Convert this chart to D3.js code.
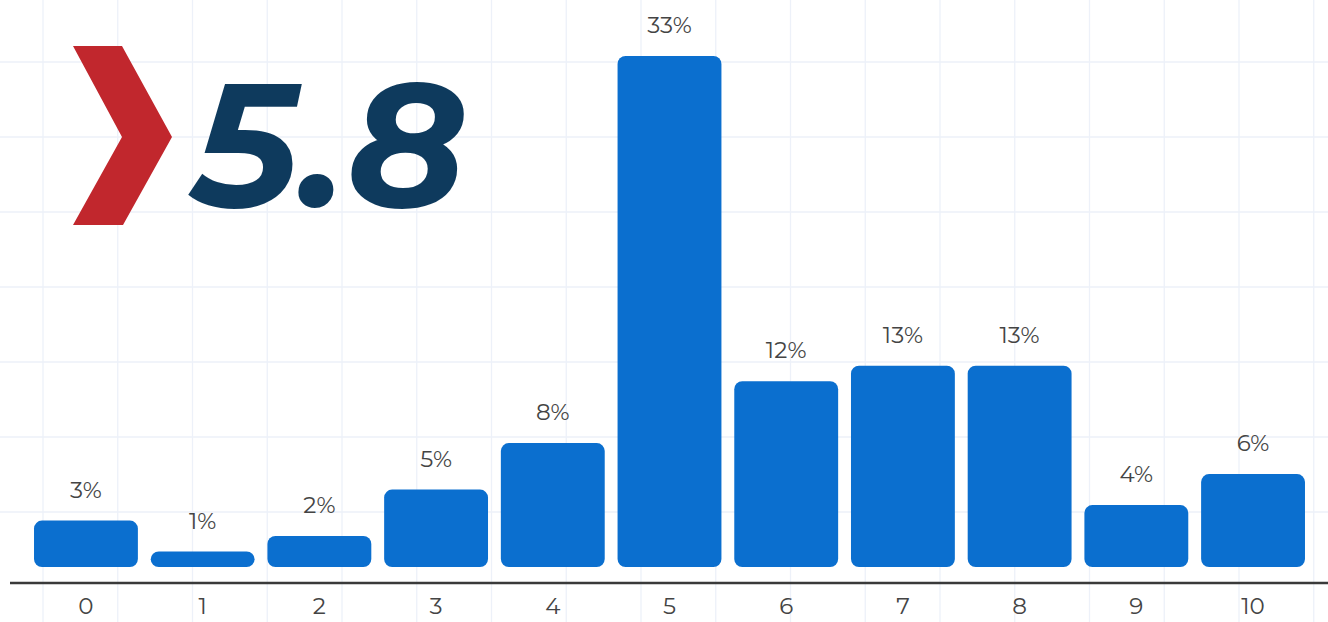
<!DOCTYPE html>
<html>
<head>
<meta charset="utf-8">
<script src="https://d3js.org/d3.v7.min.js"></script>
<style>
  body { margin: 0; background: #fff; overflow: hidden; }
  * { font-family: Montserrat, "Noto Sans", "Open Sans", sans-serif; }
</style>
</head>
<body>
<script>
// scores 0-10 and share of answers
const scores = ["0", "1", "2", "3", "4", "5", "6", "7", "8", "9", "10"];
const shares = [3, 1, 2, 5, 8, 33, 12, 13, 13, 4, 6];
const average = "5.8";

const width = 1328;
const height = 622;

const svg = d3.select("body").append("svg")
  .attr("width", width)
  .attr("height", height);

// background grid
const grid = svg.append("g").attr("class", "grid");
const gx = d3.range(43, width, 74.75);
const gy = d3.range(62, 580, 75);
grid.selectAll("line.v").data(gx).enter().append("line")
  .attr("x1", d => d).attr("x2", d => d)
  .attr("y1", 0).attr("y2", height)
  .attr("stroke", "#edf1f9").attr("stroke-width", 1.3);
grid.selectAll("line.h").data(gy).enter().append("line")
  .attr("x1", 0).attr("x2", width)
  .attr("y1", d => d).attr("y2", d => d)
  .attr("stroke", "#edf1f9").attr("stroke-width", 1.3);

const x = d3.scaleBand()
  .domain(scores)
  .range([27.6, 1311.4])
  .paddingInner(0.11)
  .paddingOuter(0.055);

const y = d3.scaleLinear()
  .domain([0, 33])
  .range([567, 56]);

const data = scores.map((s, i) => ({ score: s, share: shares[i] }));

// bars
svg.append("g").selectAll("rect")
  .data(data)
  .enter().append("rect")
  .attr("x", d => x(d.score))
  .attr("y", d => y(d.share))
  .attr("width", x.bandwidth())
  .attr("height", d => y(0) - y(d.share))
  .attr("rx", 8)
  .attr("fill", "#0b6fcf");

// value labels
svg.append("g").selectAll("text")
  .data(data)
  .enter().append("text")
  .attr("x", d => x(d.score) + x.bandwidth() / 2)
  .attr("y", d => y(d.share) - 23)
  .attr("text-anchor", "middle")
  .attr("font-size", 23)
  .attr("fill", "#444")
  .text(d => d.share + "%");

// baseline
svg.append("line")
  .attr("x1", 10).attr("x2", width)
  .attr("y1", 583).attr("y2", 583)
  .attr("stroke", "#3a3a3a").attr("stroke-width", 2.5);

// x axis labels
const xAxis = svg.append("g")
  .attr("transform", "translate(0,583)")
  .call(d3.axisBottom(x).tickSize(0).tickPadding(15));
xAxis.select(".domain").remove();
xAxis.selectAll("text")
  .attr("font-size", 23)
  .attr("fill", "#444")
  .style("font-family", "Montserrat, 'Noto Sans', sans-serif");

// logo: red chevron + average score
svg.append("polygon")
  .attr("points", "73,46 122,46 172,137 123,225 73,225 122,137")
  .attr("fill", "#c1272d");

svg.append("text")
  .attr("x", 192)
  .attr("y", 207)
  .attr("font-size", 176)
  .attr("font-weight", 700)
  .attr("font-style", "italic")
  .attr("fill", "#0e3a5d")
  .attr("textLength", 274)
  .attr("lengthAdjust", "spacingAndGlyphs")
  .text(average);
</script>
</body>
</html>
